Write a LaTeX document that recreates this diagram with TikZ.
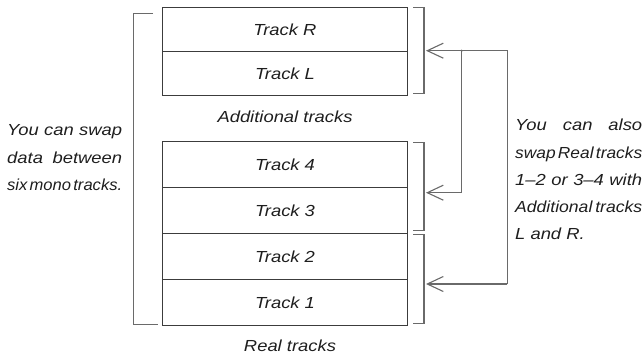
\documentclass[tikz,border=0pt]{standalone}
\usepackage{graphicx}
\usepackage{fontspec}
\setmainfont{Liberation Sans}[FakeStretch=1.15]
\usetikzlibrary{arrows.meta,positioning}
\definecolor{boxline}{HTML}{3C3C3C}
\definecolor{wiregray}{HTML}{6A6A6A}
\definecolor{txtgray}{HTML}{1E1E1E}

\begin{document}
\begin{tikzpicture}[
    x=1pt, y=-1pt,
    track/.style={draw=boxline, line width=1.1pt, minimum width=244.6pt, inner sep=0pt, outer sep=0pt,
                  font=\fontsize{16}{27.3}\selectfont\itshape, text=txtgray},
    addtrack/.style={track, minimum height=44pt},
    realtrack/.style={track, minimum height=46pt},
    brk/.style={wiregray, line width=1.1pt},
    arr/.style={-{Straight Barb[length=16pt, width=15pt]}, wiregray, line width=1.1pt},
    lbl/.style={font=\fontsize{16}{27.3}\selectfont\itshape, text=txtgray, inner sep=0pt},
    note/.style={lbl, align=left, anchor=north west}
]
\useasboundingbox (0,0) rectangle (643,356);

% --- Additional tracks (top) ---
\node[addtrack] (trackR) at (285,29.7) {Track R};
\node[addtrack, below=0pt of trackR] (trackL) {Track L};
\node[lbl, below=15.3pt of trackL] (addlbl) {Additional tracks};

% --- Real tracks (bottom) ---
\node[realtrack] (track4) at (285,164.7) {Track 4};
\node[realtrack, below=0pt of track4] (track3) {Track 3};
\node[realtrack, below=0pt of track3] (track2) {Track 2};
\node[realtrack, below=0pt of track2] (track1) {Track 1};
\node[lbl, below=13.6pt of track1, xshift=5pt] (reallbl) {Real tracks};

% brackets
\draw[brk] ([xshift=-9.7pt, yshift=-5.6pt]trackR.north west) -| ([xshift=-29.4pt, yshift=1.4pt]track1.south west)
           -- ([xshift=-4.7pt, yshift=1.4pt]track1.south west);
\draw[brk] ([xshift=5.7pt]trackR.north east) -- ++(11,0) |- ([xshift=5.7pt, yshift=2pt]trackL.south east);
\draw[brk] ([xshift=5.7pt, yshift=-1pt]track4.north east) -- ++(11,0) |- ([xshift=5.7pt, yshift=3pt]track3.south east);
\draw[brk] ([xshift=5.7pt, yshift=-1pt]track2.north east) -- ++(11,0) |- ([xshift=5.7pt, yshift=2.5pt]track1.south east);

% swap arrows
\coordinate (addin) at (426,50.7);
\coordinate (in34)  at (426,192.7);
\coordinate (in12)  at (426,284);
\coordinate (jn)    at (461.7,50.7);
\coordinate (bus)   at (507.3,284);

\draw[arr] (bus) |- (addin);
\draw[arr] (bus) -- (in12);
\draw[arr] (jn)  |- (in34);
\fill[wiregray] (jn) circle (1.2pt);

% --- notes ---
\node[note] (swapall) at (7,124.5) {\hbox to 115pt{You\hss can\hss swap}\\
    \hbox to 115pt{data\hss between}\\
    \resizebox{115pt}{\height}{six\hspace{2.5pt}mono\hspace{2.5pt}tracks.}};
\node[note] (swappair) at (515,119) {\hbox to 127pt{You\hss can\hss also}\\
    \resizebox{127pt}{\height}{swap\hspace{2.5pt}Real\hspace{2.5pt}tracks}\\
    \hbox to 127pt{1--2\hss or\hss 3--4\hss with}\\
    \resizebox{127pt}{\height}{Additional\hspace{3pt}tracks}\\
    L and R.};

\end{tikzpicture}
\end{document}
